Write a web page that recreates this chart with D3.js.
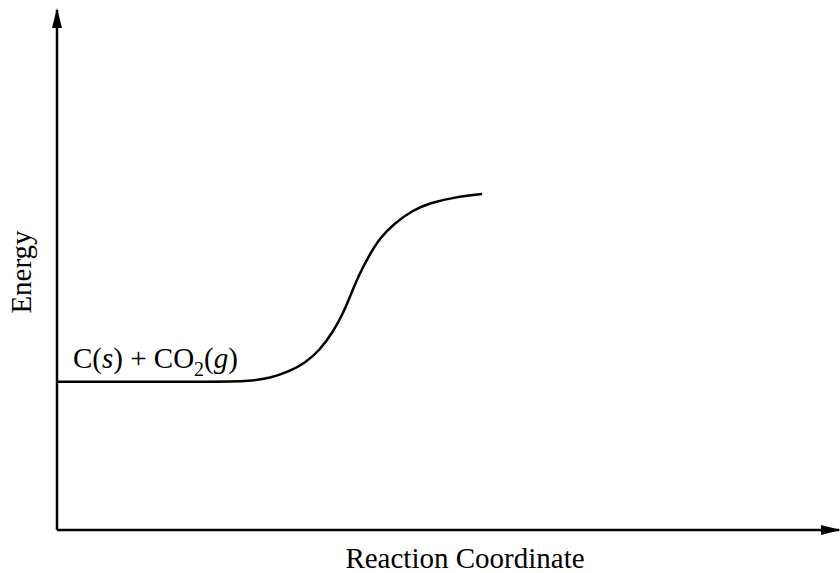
<!DOCTYPE html>
<html>
<head>
<meta charset="utf-8">
<script src="https://cdn.jsdelivr.net/npm/d3@7"></script>
<style>
  body { margin: 0; background: #fff; }
  text { font-family: "Liberation Serif", "Times New Roman", serif; fill: #000; }
</style>
</head>
<body>
<svg width="840" height="573"></svg>
<script>
// reaction coordinate (0-100) and energy (0-100)
var coord  = [0, 20.9, 24.7, 27.3, 29.9, 31.8, 33.7, 35.4, 36.7, 37.7, 38.7, 39.9, 41.4, 43.3, 45.5, 47.8, 51.0, 54.5];
var energy = [28.5, 28.5, 28.65, 29.2, 30.6, 32.1, 34.6, 38.1, 41.7, 45.4, 49.0, 52.5, 56.2, 59.0, 61.4, 62.9, 64.0, 64.6];
var reactantLabel = ["C(", "s", ") + CO", "2", "(", "g", ")"];
var xLabel = "Reaction Coordinate";
var yLabel = "Energy";

var svg = d3.select("svg"),
    width = +svg.attr("width"),
    height = +svg.attr("height");

var x = d3.scaleLinear().domain([0, 100]).range([57, 837]);
var y = d3.scaleLinear().domain([0, 100]).range([530, 10]);

svg.append("defs").append("marker")
    .attr("id", "arrow")
    .attr("viewBox", "0 0 20 10")
    .attr("refX", 18).attr("refY", 5)
    .attr("markerWidth", 20).attr("markerHeight", 10)
    .attr("markerUnits", "userSpaceOnUse")
    .attr("orient", "auto")
  .append("path")
    .attr("d", "M0,0L20,5L0,10Z")
    .attr("fill", "#000");

// axes
svg.append("line")
    .attr("x1", x(0)).attr("y1", y(0))
    .attr("x2", x(0)).attr("y2", y(100))
    .attr("stroke", "#000").attr("stroke-width", 2.5)
    .attr("marker-end", "url(#arrow)");

svg.append("line")
    .attr("x1", x(0)).attr("y1", y(0))
    .attr("x2", x(100) + 2).attr("y2", y(0))
    .attr("stroke", "#000").attr("stroke-width", 2.5)
    .attr("marker-end", "url(#arrow)");

var line = d3.line()
    .x(function(d, i) { return x(coord[i]); })
    .y(function(d, i) { return y(d); })
    .curve(d3.curveBasis);

svg.append("path")
    .datum(energy)
    .attr("fill", "none")
    .attr("stroke", "#000")
    .attr("stroke-width", 2.5)
    .attr("d", line);

// reactant label
var lab = svg.append("text")
    .attr("x", x(0) + 16)
    .attr("y", y(energy[0]) - 14)
    .attr("font-size", 29);
reactantLabel.forEach(function(s, i) {
  var t = lab.append("tspan").text(s);
  if (s == "s" || s == "g") t.attr("font-style", "italic");
  if (s == "2") t.attr("font-size", 20).attr("dy", 8);
  if (i > 0 && reactantLabel[i - 1] == "2") t.attr("dy", -8);
});

svg.append("text")
    .attr("x", 465).attr("y", 568)
    .attr("text-anchor", "middle")
    .attr("font-size", 29)
    .text(xLabel);

svg.append("text")
    .attr("transform", "translate(31,272) rotate(-90)")
    .attr("text-anchor", "middle")
    .attr("font-size", 29)
    .text(yLabel);
</script>
</body>
</html>
